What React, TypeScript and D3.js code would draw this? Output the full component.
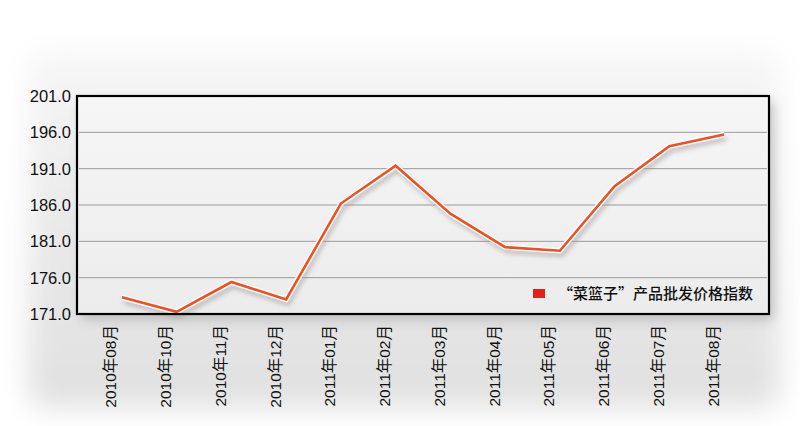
import React from "react";
import * as d3 from "d3";

const categories = [
  "2010年08月", "2010年10月", "2010年11月", "2010年12月",
  "2011年01月", "2011年02月", "2011年03月", "2011年04月",
  "2011年05月", "2011年06月", "2011年07月", "2011年08月",
];
const values = [173.3, 171.3, 175.4, 173.0, 186.2, 191.4, 184.8, 180.2, 179.7, 188.6, 194.1, 195.7];
const yTicks = [171, 176, 181, 186, 191, 196, 201];
const seriesName = "“菜篮子”产品批发价格指数";

const W = 800, H = 426;
const L = 77, R = 769, T = 96, B = 314;

export default function App() {
  const x = d3.scalePoint<string>().domain(categories).range([L, R]).padding(0.82);
  const y = d3.scaleLinear().domain([171, 201]).range([B, T]);
  const line = d3.line<number>().x((_, i) => x(categories[i]) as number).y((d) => y(d));
  const path = line(values) || "";
  const font = "'Liberation Sans', Arial, 'Noto Sans CJK SC', sans-serif";

  return (
    <svg width={W} height={H} style={{ position: "absolute", left: 0, top: 0, background: "#fff" }}>
      <defs>
        <filter id="bgblur" x="-20%" y="-20%" width="140%" height="140%">
          <feGaussianBlur stdDeviation="14" />
        </filter>
        <filter id="shadow" x="-10%" y="-10%" width="130%" height="140%">
          <feGaussianBlur stdDeviation="6" />
        </filter>
        <filter id="lineShadow" x="-10%" y="-10%" width="120%" height="130%">
          <feGaussianBlur stdDeviation="2.5" />
        </filter>
        <linearGradient id="bgGrad" x1="0" y1="0" x2="0" y2="1">
          <stop offset="0" stopColor="#f7f7f7" />
          <stop offset="0.5" stopColor="#e9e9e9" />
          <stop offset="1" stopColor="#e0e0e0" />
        </linearGradient>
        <linearGradient id="plotGrad" x1="0" y1="0" x2="0" y2="1">
          <stop offset="0" stopColor="#f6f6f6" />
          <stop offset="1" stopColor="#ececec" />
        </linearGradient>
      </defs>
      <rect x={0} y={0} width={W} height={H} fill="#fff" />
      <rect x={28} y={50} width={752} height={358} rx={20} fill="url(#bgGrad)" filter="url(#bgblur)" />
      <rect x={L + 4} y={T + 6} width={R - L} height={B - T} fill="#bdbdbd" filter="url(#shadow)" />
      <rect x={L} y={T} width={R - L} height={B - T} fill="url(#plotGrad)" />
      {yTicks.slice(1, -1).map((t) => (
        <line key={t} x1={L + 2} x2={R - 2} y1={y(t)} y2={y(t)} stroke="#9a9a9a" strokeWidth={1} />
      ))}
      <path d={path} fill="none" stroke="#9a9a9a" strokeWidth={4} transform="translate(2,4)" filter="url(#lineShadow)" opacity={0.7} />
      <path d={path} fill="none" stroke="#ffffff" strokeWidth={5.5} strokeLinejoin="miter" />
      <path d={path} fill="none" stroke="#f0501f" strokeWidth={2.6} strokeLinejoin="miter" />
      <rect x={L} y={T} width={R - L} height={B - T} fill="none" stroke="#000" strokeWidth={2.2} />
      {yTicks.map((t) => (
        <text key={t} x={71} y={y(t)} dy="0.36em" textAnchor="end" fontFamily={font} fontSize={16.5} fill="#111">
          {t.toFixed(1)}
        </text>
      ))}
      {categories.map((c) => (
        <text
          key={c}
          transform={`translate(${(x(c) as number) - 5.5},${325}) rotate(-90)`}
          textAnchor="end"
          fontFamily={font}
          fontSize={15.5}
          fill="#111"
        >
          {c}
        </text>
      ))}
      <rect x={533} y={289} width={12} height={9} fill="#e3211b" />
      <text x={558} y={299} fontFamily="'Noto Sans CJK SC', sans-serif" fontSize={15} fontWeight={500} fill="#111">
        {seriesName}
      </text>
    </svg>
  );
}
